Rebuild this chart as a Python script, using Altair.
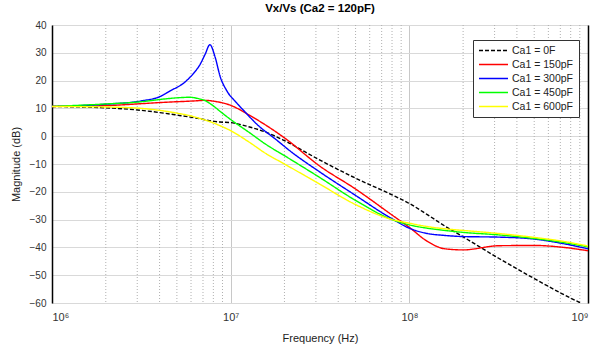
import altair as alt
import pandas as pd

# Frequency points (Hz) used by most series
freq_hz = [1.0e6, 2.0e6, 3.16e6, 4.0e6, 5.0e6, 5.9e6, 6.7e6, 7.2e6, 7.6e6, 8.0e6, 8.7e6,
           1.0e7, 1.26e7, 1.58e7, 2.0e7, 3.16e7, 5.0e7, 7.94e7,
           1.0e8, 1.26e8, 1.58e8, 2.0e8, 3.16e8, 5.0e8, 7.08e8, 1.0e9]

mag_0F = [10.7, 10.2, 9.3, 8.5, 7.6, 6.9, 6.3, 5.9, 5.6, 5.4, 5.1,
          4.9, 3.4, 1.4, -1.6, -8.6, -15.1, -21.0,
          -24.2, -28.2, -32.3, -36.2, -43.9, -51.2, -56.5, -61.3]
mag_150pF = [10.7, 11.0, 11.7, 12.1, 12.4, 12.6, 12.8, 12.9, 12.8, 12.6, 12.2,
             11.1, 7.7, 3.9, -0.6, -10.8, -19.0, -28.2,
             -32.8, -37.8, -40.5, -40.9, -39.4, -39.3, -39.9, -41.2]
mag_450pF = [10.7, 11.6, 12.4, 13.2, 13.8, 14.0, 13.4, 12.8, 11.9, 10.9, 9.0,
             6.0, 1.5, -3.0, -7.0, -14.9, -23.1, -29.9,
             -31.9, -33.1, -33.9, -34.6, -35.5, -36.8, -38.1, -39.8]
mag_600pF = [10.7, 10.5, 10.0, 9.3, 8.3, 7.4, 6.4, 5.8, 5.3, 4.8, 3.8,
             2.0, -2.0, -6.3, -10.0, -17.3, -24.6, -29.9,
             -31.3, -32.5, -33.3, -33.9, -35.0, -36.4, -37.7, -39.5]

# The resonant series has its own, denser frequency points around the peak
freq_300pF = [1.0e6, 2.0e6, 3.16e6, 4.0e6, 4.58e6, 5.43e6, 6.18e6, 6.74e6, 7.2e6, 7.65e6,
              8.18e6, 8.73e6, 9.5e6, 1.08e7, 1.18e7, 1.43e7, 1.77e7, 2.2e7, 3.16e7,
              5.0e7, 7.94e7, 1.0e8, 1.26e8, 1.58e8, 2.0e8, 3.16e8, 5.0e8, 7.08e8, 1.0e9]
mag_300pF = [10.7, 11.5, 12.7, 14.2, 16.3, 19.0, 22.5, 25.8, 29.5, 32.9,
             28.5, 21.5, 16.4, 12.0, 9.3, 3.8, -0.9, -5.8, -12.9,
             -21.3, -29.6, -33.1, -35.0, -35.7, -36.1, -36.3, -37.0, -38.5, -40.5]

series_names = ["Ca1 = 0F", "Ca1 = 150pF", "Ca1 = 300pF", "Ca1 = 450pF", "Ca1 = 600pF"]
series_colors = ["#000000", "#ff0000", "#0000ff", "#00ff00", "#ffff00"]
series_dash = [[4, 2], [1, 0], [1, 0], [1, 0], [1, 0]]

decades = [1e6, 1e7, 1e8, 1e9]
minor_grid = [m * d for d in [1e6, 1e7, 1e8] for m in range(2, 10)]
y_ticks = list(range(-60, 41, 10))

rows = []
series_data = [
    (freq_hz, mag_0F), (freq_hz, mag_150pF), (freq_300pF, mag_300pF),
    (freq_hz, mag_450pF), (freq_hz, mag_600pF),
]
for name, (freqs, mags) in zip(series_names, series_data):
    for i, (f, m) in enumerate(zip(freqs, mags)):
        rows.append({"series": name, "freq": f, "mag": m, "idx": i})
df = pd.DataFrame(rows)

x_scale = alt.Scale(type="log", domain=[1e6, 1e9], nice=False)
y_scale = alt.Scale(domain=[-60, 40], nice=False)

label_expr = ("datum.value < 5e6 ? '10\u2076' : datum.value < 5e7 ? '10\u2077' : "
              "datum.value < 5e8 ? '10\u2078' : '10\u2079'")

x_axis = alt.Axis(values=decades, labelExpr=label_expr, grid=True,
                  gridColor="#c8c8c8", title="Frequency (Hz)",
                  domain=False, ticks=False, labelPadding=8,
                  labelFontSize=11, labelColor="#333333",
                  titleFontSize=11, titleFontWeight="normal",
                  titlePadding=10, titleColor="#222222")

minor = alt.Chart(pd.DataFrame({"freq": minor_grid})).mark_rule(
    color="#b0b0b0", strokeDash=[1, 2], strokeWidth=1
).encode(x=alt.X("freq:Q", scale=x_scale, axis=x_axis))

legend_kw = dict(
    title=None, orient="none", legendX=421, legendY=15,
    strokeColor="#333333", fillColor="white", padding=5,
    labelFontSize=10.5, labelColor="#222222", symbolType="stroke", symbolSize=841,
    symbolStrokeWidth=1.5, clipHeight=11, rowPadding=3, labelOffset=3,
    cornerRadius=0,
)

lines = alt.Chart(df).mark_line(clip=True, strokeWidth=1.4, interpolate="monotone").encode(
    x=alt.X("freq:Q", scale=x_scale, axis=x_axis),
    y=alt.Y("mag:Q", scale=y_scale,
            axis=alt.Axis(values=y_ticks, grid=True, gridColor="#d9d9d9",
                          title="Magnitude (dB)", domainColor="#000000",
                          domainWidth=1.5, ticks=False, labelPadding=6,
                          labelFontSize=10, labelColor="#333333",
                          titleFontSize=11, titleFontWeight="normal",
                          titlePadding=8, titleColor="#222222")),
    color=alt.Color("series:N", scale=alt.Scale(domain=series_names, range=series_colors),
                    legend=alt.Legend(**legend_kw)),
    strokeDash=alt.StrokeDash("series:N", scale=alt.Scale(domain=series_names, range=series_dash),
                              legend=alt.Legend(**legend_kw)),
    order="idx:Q",
)

right_axis = alt.Chart(pd.DataFrame({"mag": y_ticks})).mark_tick(opacity=0).encode(
    y=alt.Y("mag:Q", scale=y_scale,
            axis=alt.Axis(orient="right", labels=False, ticks=False, grid=False,
                          domainColor="#000000", domainWidth=1.5, title=None))
)

chart = alt.layer(minor, lines, right_axis).resolve_axis(y="independent").properties(
    width=536, height=278,
    title=alt.TitleParams("Vx/Vs (Ca2 = 120pF)", fontSize=11.5, fontWeight="bold",
                          anchor="middle", offset=6, color="#000000"),
    autosize=alt.AutoSizeParams(type="none"),
    padding={"left": 52, "top": 25, "right": 9, "bottom": 48},
).configure(font="Liberation Sans").configure_view(stroke=None)

chart.save("out.html", embed_options={"renderer": "svg", "actions": False})
